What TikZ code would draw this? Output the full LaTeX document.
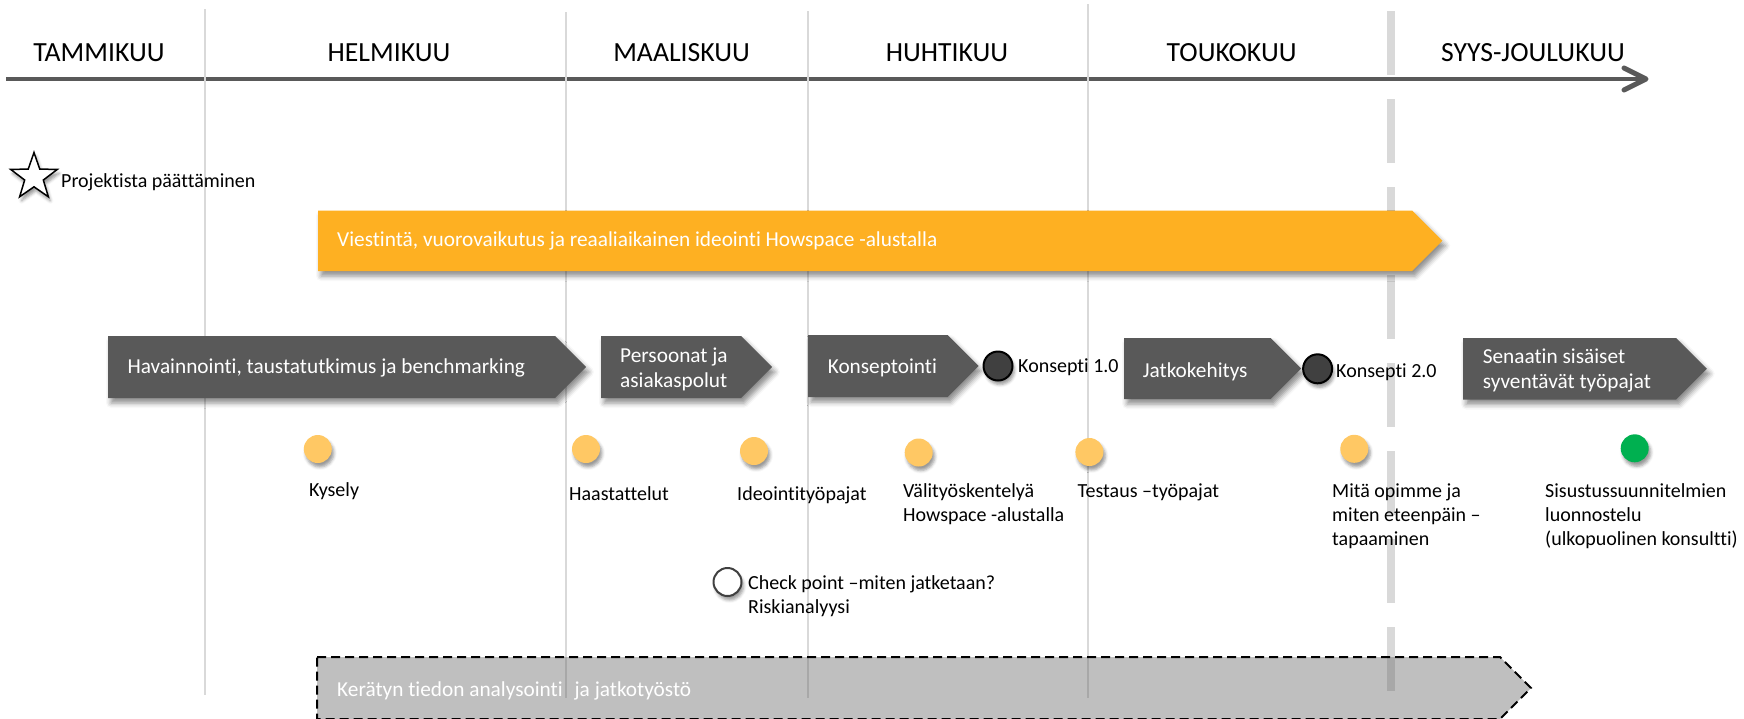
\documentclass[tikz,border=0pt]{standalone}
\usepackage{fontspec}
\setmainfont{Carlito}[Ligatures={NoCommon,NoContextual}]
\usetikzlibrary{shapes.geometric,shadows.blur}
\definecolor{darkbox}{RGB}{89,89,89}
\definecolor{orangebar}{RGB}{254,176,34}
\definecolor{dotorange}{RGB}{255,200,100}
\definecolor{dotgreen}{RGB}{0,176,80}
\definecolor{vline}{RGB}{217,217,217}
\definecolor{tline}{RGB}{89,89,89}
\definecolor{grayfill}{RGB}{95,95,95}
\definecolor{konsfill}{RGB}{64,64,64}
\newcommand\lines[1]{\begin{tabular}[t]{@{}l@{}}#1\end{tabular}}
\newcommand\chevron[5]{\path[#1] (#2,#3) -- (#4,#3) -- ({#4+(#5-#3)/2},{(#3+#5)/2}) -- (#4,#5) -- (#2,#5) -- cycle;}
\tikzset{
  lbl/.style={anchor=base west, inner sep=0pt, font=\fontsize{20}{24.4}\selectfont},
  boxtxt/.style={anchor=base west, inner sep=0pt, text=white, font=\fontsize{21.3}{24.8}\selectfont},
  month/.style={anchor=base, inner sep=0pt, font=\fontsize{27.7}{32}\selectfont},
  boxshadow/.style={blur shadow={shadow xshift=3pt, shadow yshift=-5pt, shadow blur radius=5pt, shadow opacity=45}},
  dotshadow/.style={blur shadow={shadow xshift=2pt, shadow yshift=-4pt, shadow blur radius=3pt, shadow opacity=40}},
  darkarrow/.style={fill=darkbox, boxshadow},
  orangearrow/.style={fill=orangebar, boxshadow},
  grayarrow/.style={fill=grayfill, fill opacity=0.4, draw=black, line width=2pt, dash pattern=on 9pt off 5pt},
  thinline/.style={draw=vline, line width=2pt},
  thickdash/.style={draw=vline, line width=7.5pt, dash pattern=on 64pt off 24pt},
  dot/.style={circle, minimum size=28pt, inner sep=0pt, fill=dotorange, dotshadow},
  greendot/.style={dot, fill=dotgreen},
  konsdot/.style={circle, minimum size=29pt, inner sep=0pt, fill=konsfill, draw=black, line width=2pt, dotshadow},
  checkdot/.style={circle, minimum size=28pt, inner sep=0pt, fill=white, draw=konsfill, line width=2pt, dotshadow},
  starnode/.style={star, star points=5, star point ratio=2.5, minimum size=49pt, inner sep=0pt, fill=white, draw=black, line width=1.5pt, dotshadow},
  timeline/.style={draw=tline, line width=4.7pt},
  timehead/.style={draw=tline, line width=5pt, line cap=round, line join=round}
}
\begin{document}
\begin{tikzpicture}[x=1pt,y=-1pt]
\useasboundingbox (0,0) rectangle (1744,718);
\clip (0,0) rectangle (1744,718);

% timeline
\coordinate (tl-start) at (6,79);
\coordinate (tl-end) at (1644,79);
\coordinate (th-top) at (1624,68);
\coordinate (th-bot) at (1624,90);
\coordinate (th-tip) at (1646,79);
\draw[timeline] (tl-start) -- (tl-end);
\draw[timehead] (th-top) -- (th-tip) -- (th-bot);

% month separators
\draw[thinline] (205,9) -- (205,695);
\draw[thinline] (566,12) -- (566,698);
\draw[thinline] (808,11) -- (808,698);
\draw[thinline] (1088,4) -- (1088,698);
\draw[thickdash] (1391,11) -- (1391,691);

% months
\node[month] (m1) at (99,61.5) {TAMMIKUU};
\node[month] (m2) at (389,61.5) {HELMIKUU};
\node[month] (m3) at (681.6,61.5) {MAALISKUU};
\node[month] (m4) at (947,61.5) {HUHTIKUU};
\node[month] (m5) at (1231.6,61.5) {TOUKOKUU};
\node[month] (m6) at (1533,61.5) {SYYS-JOULUKUU};

% start
\node[starnode] (star) at (34,177) {};
\node[lbl] (l-proj) at (61,187) {Projektista päättäminen};

% orange arrow
\chevron{orangearrow}{318}{210.5}{1412}{271}
\node[boxtxt] (t-vie) at (337,246.8) {Viestintä, vuorovaikutus ja reaaliaikainen ideointi Howspace -alustalla};

% dark phase arrows
\chevron{darkarrow}{108}{336}{555}{398}
\chevron{darkarrow}{601}{336}{741}{398}
\chevron{darkarrow}{808}{335}{947.5}{397}
\chevron{darkarrow}{1124}{338}{1270.5}{399}
\chevron{darkarrow}{1463}{338}{1676}{399.5}
\node[boxtxt] (t-hav) at (127.4,373.5) {Havainnointi, taustatutkimus ja benchmarking};
\node[boxtxt] (t-per) at (620,362.8) {\lines{Persoonat ja\\asiakaspolut}};
\node[boxtxt] (t-kon) at (827.6,373.5) {Konseptointi};
\node[boxtxt] (t-jat) at (1142.6,377.5) {Jatkokehitys};
\node[boxtxt] (t-sen) at (1482.6,363.5) {\lines{Senaatin sisäiset\\syventävät työpajat}};

% concept milestones
\node[konsdot] (k1) at (998,366) {};
\node[lbl] (l-k1) at (1018,372.5) {Konsepti 1.0};
\node[konsdot] (k2) at (1317.6,368.8) {};
\node[lbl] (l-k2) at (1336,377.5) {Konsepti 2.0};

% bottom gray arrow
\chevron{grayarrow}{317}{657}{1500}{719}
\node[boxtxt] (t-ker) at (337,696.8) {Kerätyn tiedon analysointi\hspace{12pt}ja jatkotyöstö};

% event dots
\node[dot] (d1) at (317.8,449) {};
\node[dot] (d2) at (586,449) {};
\node[dot] (d3) at (754,451) {};
\node[dot] (d4) at (918.7,452.5) {};
\node[dot] (d5) at (1089.4,452) {};
\node[dot] (d6) at (1354.3,448.8) {};
\node[greendot] (d7) at (1634.7,448.3) {};
\node[checkdot] (chk) at (727.5,582) {};

% event labels
\node[lbl] (l-kys) at (309,496) {Kysely};
\node[lbl] (l-haa) at (569,500) {Haastattelut};
\node[lbl] (l-ide) at (737,500.7) {Ideointityöpajat};
\node[lbl] (l-val) at (903,497.5) {\lines{Välityöskentelyä\\Howspace -alustalla}};
\node[lbl] (l-tes) at (1077.5,497) {Testaus –työpajat};
\node[lbl] (l-chk) at (748,589) {\lines{Check point –miten jatketaan?\\Riskianalyysi}};
\node[lbl] (l-mit) at (1332,497) {\lines{Mitä opimme ja\\miten eteenpäin –\\tapaaminen}};
\node[lbl] (l-sis) at (1545,497) {\lines{Sisustussuunnitelmien\\luonnostelu\\(ulkopuolinen konsultti)}};
\end{tikzpicture}
\end{document}
